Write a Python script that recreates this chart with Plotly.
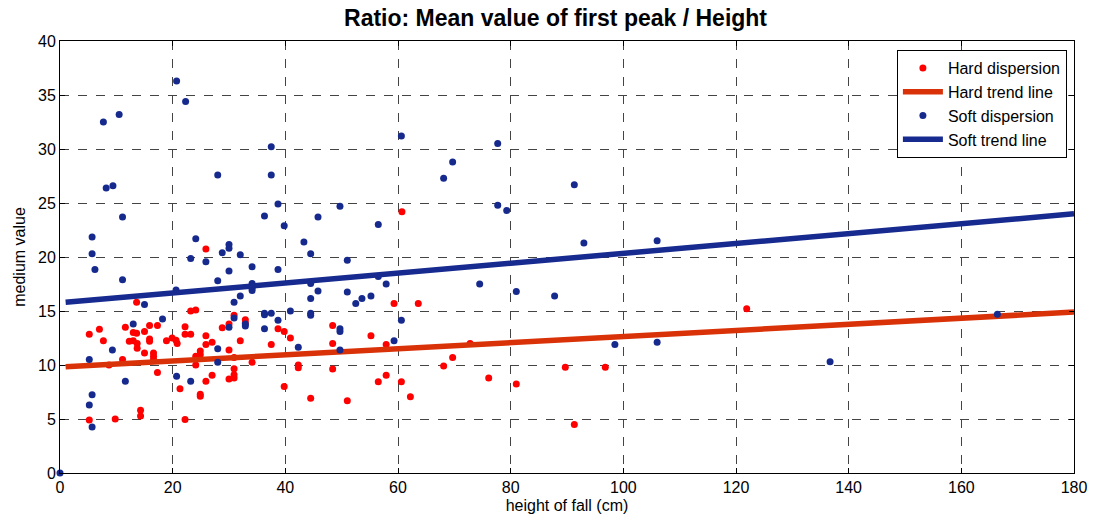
import plotly.graph_objects as go

# Hard surface measurements: height of fall (cm) and mean value of first peak
hard_x = [5.2, 7.0, 7.7, 8.7, 9.8, 5.2, 11.1, 11.6, 12.3, 13.0, 13.0, 13.6, 13.6, 13.7, 13.7,
          14.3, 14.3, 15.0, 15.0, 15.9, 15.9, 15.9, 16.6, 16.6, 16.6, 17.3, 17.3, 18.9, 19.9,
          20.6, 20.8, 21.3, 22.2, 22.2, 22.2, 23.2, 23.2, 24.1, 24.1, 24.1, 24.9, 24.9, 24.9,
          24.9, 25.9, 25.9, 25.9, 25.9, 27.0, 27.0, 28.8, 30.0, 30.0, 30.0, 30.9, 30.9, 30.9,
          30.9, 30.9, 32.0, 32.9, 32.9, 34.1, 37.5, 38.7, 39.8, 39.8, 40.9, 42.3, 42.3, 44.5,
          48.4, 48.4, 48.4, 51.0, 55.2, 56.5, 57.9, 57.9, 59.3, 60.6, 60.7, 62.2, 63.6, 68.1,
          69.7, 72.8, 76.1, 81.0, 89.7, 91.3, 96.8, 121.9]
hard_y = [12.85, 13.3, 12.25, 10.0, 5.0, 4.9, 10.5, 13.5, 12.2, 13.0, 12.25, 15.8, 12.95, 12.0, 11.55,
          5.8, 5.27, 13.1, 11.1, 13.65, 12.4, 12.2, 11.1, 10.8, 10.5, 13.65, 9.3, 12.25, 12.5,
          12.3, 12.0, 7.8, 13.55, 12.85, 4.95, 12.85, 15.0, 15.1, 10.8, 10.0, 11.3, 10.95, 7.3,
          7.1, 20.75, 12.7, 11.9, 8.5, 12.1, 9.05, 13.45, 13.8, 11.4, 8.7, 14.6, 10.7, 9.65,
          9.1, 8.8, 12.25, 14.2, 13.9, 10.25, 11.9, 13.35, 13.1, 8.0, 12.5, 10.0, 9.75, 6.93,
          13.65, 12.0, 9.63, 6.7, 12.7, 8.46, 11.9, 9.05, 15.7, 8.46, 24.2, 7.05, 15.7, 9.9,
          10.7, 12.0, 8.8, 8.25, 9.8, 4.5, 9.8, 15.2]

# Soft surface measurements
soft_x = [0.0, 5.7, 5.7, 6.2, 7.7, 8.2, 9.4, 10.5, 11.1, 11.1, 5.2, 5.7, 5.2, 5.7, 9.3, 11.6,
          13.0, 15.0, 18.2, 20.6, 20.7, 20.7, 22.3, 23.2, 23.2, 24.1, 25.9, 28.0, 28.0, 28.0,
          28.0, 28.8, 30.0, 30.0, 30.0, 30.0, 30.9, 30.9, 32.0, 32.0, 32.9, 32.9, 34.1, 34.1,
          34.1, 34.1, 36.3, 36.3, 36.3, 36.3, 37.5, 37.5, 37.5, 38.7, 38.7, 38.7, 39.8, 40.9,
          42.3, 43.3, 44.5, 44.5, 44.5, 44.5, 44.5, 45.8, 45.8, 49.7, 49.7, 49.7, 49.7, 51.0,
          51.0, 52.5, 53.6, 55.2, 56.5, 56.5, 57.9, 59.3, 60.6, 60.6, 68.1, 69.7, 74.5, 77.7,
          77.7, 79.3, 81.0, 87.8, 91.3, 93.0, 98.5, 106.0, 106.0, 136.7, 166.4]
soft_y = [0.0, 21.85, 20.3, 18.85, 32.5, 26.4, 26.6, 33.2, 23.7, 17.9, 10.5, 7.25, 6.3, 4.25, 11.4, 8.5,
          13.8, 15.6, 14.25, 16.95, 8.95, 36.3, 34.4, 19.85, 8.5, 21.7, 19.55, 27.6, 17.8, 11.5,
          10.25, 20.4, 21.15, 20.8, 18.7, 13.5, 15.8, 14.35, 20.2, 16.4, 13.8, 13.6, 19.1, 17.55,
          17.1, 16.9, 23.8, 14.8, 14.65, 13.35, 30.2, 27.6, 14.8, 24.9, 18.85, 14.15, 22.9, 15.0,
          11.65, 21.4, 20.3, 17.55, 16.15, 14.8, 14.6, 23.7, 16.85, 24.7, 13.35, 13.1, 11.4, 19.7,
          16.75, 15.7, 16.15, 16.4, 23.0, 18.2, 17.5, 12.25, 31.2, 14.15, 27.3, 28.8, 17.5, 30.5,
          24.8, 24.3, 16.8, 16.4, 26.7, 21.3, 11.9, 21.5, 12.1, 10.3, 14.7]

# Linear trend lines (end points of each fit)
hard_trend_x = [1, 180]
hard_trend_y = [9.83, 14.9]
soft_trend_x = [1, 180]
soft_trend_y = [15.8, 24.0]

x_ticks = [0, 20, 40, 60, 80, 100, 120, 140, 160, 180]
y_ticks = [0, 5, 10, 15, 20, 25, 30, 35, 40]

FONT = "Liberation Sans, Arial, sans-serif"

fig = go.Figure()
fig.add_trace(go.Scatter(x=hard_x, y=hard_y, mode="markers", name="Hard dispersion",
                         marker=dict(color="#ff0000", size=7, line=dict(width=0)),
                         cliponaxis=False))
fig.add_trace(go.Scatter(x=hard_trend_x, y=hard_trend_y, mode="lines", name="Hard trend line",
                         line=dict(color="#da3208", width=5.5)))
fig.add_trace(go.Scatter(x=soft_x, y=soft_y, mode="markers", name="Soft dispersion",
                         marker=dict(color="#162a8e", size=7, line=dict(width=0)),
                         cliponaxis=False))
fig.add_trace(go.Scatter(x=soft_trend_x, y=soft_trend_y, mode="lines", name="Soft trend line",
                         line=dict(color="#172a8f", width=5.5)))

axis_common = dict(
    showline=True, linecolor="black", linewidth=1, mirror="ticks",
    ticks="inside", ticklen=5, tickcolor="black",
    showgrid=True, gridcolor="#444444", griddash="dash", gridwidth=1,
    zeroline=False,
    tickfont=dict(family=FONT, size=16, color="black"),
)

fig.update_xaxes(range=[0, 180], tickvals=x_ticks,
                 title=dict(text="height of fall (cm)", font=dict(family=FONT, size=16, color="black"),
                            standoff=4),
                 **axis_common)
fig.update_yaxes(range=[0, 40], tickvals=y_ticks,
                 title=dict(text="medium value", font=dict(family=FONT, size=16, color="black"),
                            standoff=8),
                 **axis_common)

fig.update_layout(
    width=1099, height=523,
    margin=dict(l=60, r=23, t=41, b=47),
    paper_bgcolor="white", plot_bgcolor="white",
    title=dict(text="<b>Ratio: Mean value of first peak / Height</b>",
               font=dict(family=FONT, size=23, color="black"),
               x=0.5055, xanchor="center", y=0.965, yanchor="middle"),
    legend=dict(x=0.993, xanchor="right", y=0.979, yanchor="top",
                bgcolor="white", bordercolor="black", borderwidth=1,
                font=dict(family=FONT, size=16, color="black"),
                tracegroupgap=0, itemwidth=40),
    showlegend=True,
)

fig.write_html("out.html")
